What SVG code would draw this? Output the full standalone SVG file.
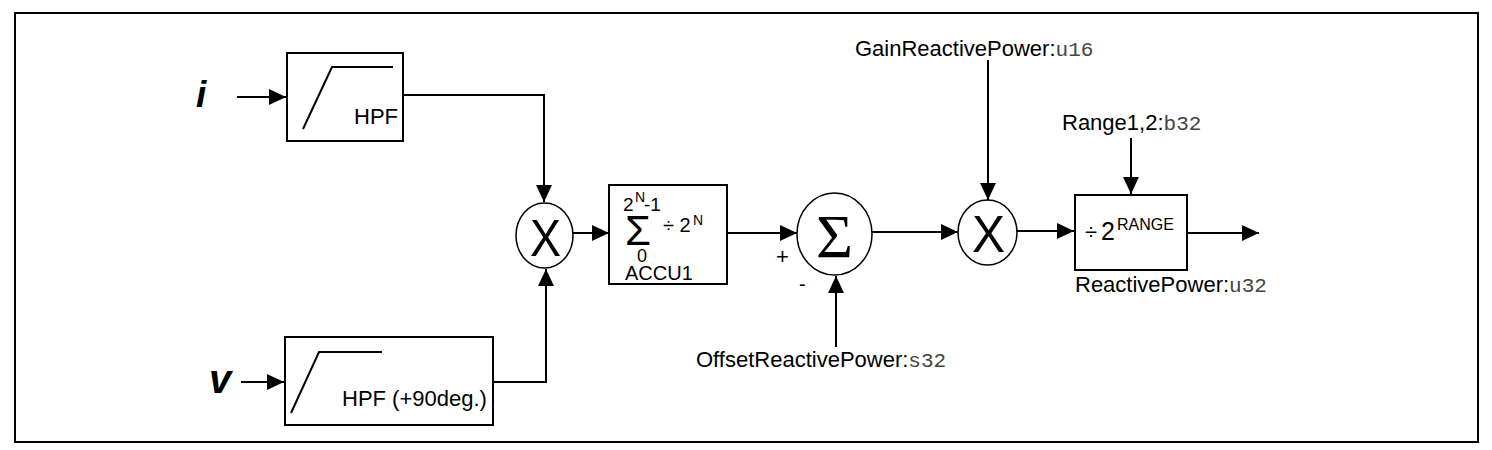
<svg xmlns="http://www.w3.org/2000/svg" width="1492" height="450" viewBox="0 0 1492 450">
<style>
text{font-family:"Liberation Sans",Arial,sans-serif;fill:#000}
.lbl{font-size:22px}
.mono{font-family:"Liberation Mono","Courier New",monospace;font-size:21px;fill:#444}
.serif{font-family:"Liberation Serif","Times New Roman",serif}
.box{fill:#fff;stroke:#000;stroke-width:2}
.circ{fill:#fff;stroke:#000;stroke-width:1.5}
.wire{fill:none;stroke:#000;stroke-width:2}
.big{font-weight:bold;font-style:italic}
</style>
<defs>
<marker id="ah" markerWidth="17" markerHeight="16" refX="17" refY="8" orient="auto" markerUnits="userSpaceOnUse">
<path d="M0,0 L17,8 L0,16 z" fill="#000"/>
</marker>
</defs>
<rect x="15" y="13" width="1463" height="429" fill="#fff" stroke="#000" stroke-width="2"/>

<g id="input-i"><text class="big" x="196" y="107" font-size="37">i</text></g>
<g id="input-v"><text class="big" x="209" y="393" font-size="40">v</text></g>

<g id="hpf1">
<rect class="box" x="287" y="53" width="116" height="88"/>
<path class="wire" d="M303,129 L332,67 H393"/>
<text class="lbl" x="354" y="124">HPF</text>
</g>

<g id="hpf2">
<rect class="box" x="285" y="337" width="208" height="88"/>
<path class="wire" d="M291,413 L319,352 H382"/>
<text class="lbl" x="342" y="406">HPF (+90deg.)</text>
</g>

<g id="mult1">
<ellipse class="circ" cx="544.5" cy="235.5" rx="28.5" ry="32.5"/>
<text x="530" y="256" font-size="52" textLength="31" lengthAdjust="spacingAndGlyphs">X</text>
</g>

<g id="accu1">
<rect class="box" x="609" y="185" width="118" height="99"/>
<text x="623" y="211" font-size="19">2</text>
<text x="635" y="202" font-size="14">N</text>
<text x="644" y="211" font-size="19">-1</text>
<text x="625" y="245" font-size="43" textLength="26" lengthAdjust="spacingAndGlyphs">Σ</text>
<text x="637" y="262" font-size="18">0</text>
<text x="663" y="232" font-size="20">÷ 2</text>
<text x="693" y="225" font-size="14">N</text>
<text x="625" y="280" font-size="20">ACCU1</text>
</g>

<g id="sum">
<ellipse class="circ" cx="834.5" cy="234" rx="37.5" ry="41"/>
<text class="serif" x="816" y="257" font-size="62" textLength="37" lengthAdjust="spacingAndGlyphs">Σ</text>
<text x="776" y="264" font-size="22">+</text>
<text x="799" y="291" font-size="20">-</text>
</g>

<g id="mult2">
<ellipse class="circ" cx="987.5" cy="232.5" rx="29.5" ry="32.5"/>
<text x="972" y="252" font-size="52" textLength="33" lengthAdjust="spacingAndGlyphs">X</text>
</g>

<g id="range-div">
<rect class="box" x="1075" y="195" width="112" height="75"/>
<text x="1085" y="239" font-size="22">÷</text>
<text x="1101" y="240" font-size="25">2</text>
<text x="1117" y="230" font-size="16">RANGE</text>
</g>

<g id="labels">
<text class="lbl" x="855" y="56">GainReactivePower:<tspan class="mono">u16</tspan></text>
<text class="lbl" x="1062" y="130">Range1,2:<tspan class="mono">b32</tspan></text>
<text class="lbl" x="1075" y="292">ReactivePower:<tspan class="mono">u32</tspan></text>
<text class="lbl" x="696" y="367">OffsetReactivePower:<tspan class="mono">s32</tspan></text>
</g>

<g id="connectors">
<path class="wire" d="M237,97 H286" marker-end="url(#ah)"/>
<path class="wire" d="M241,382 H284" marker-end="url(#ah)"/>
<path class="wire" d="M403,95 H544 V202" marker-end="url(#ah)"/>
<path class="wire" d="M493,382 H546 V269" marker-end="url(#ah)"/>
<path class="wire" d="M573,233 H609" marker-end="url(#ah)"/>
<path class="wire" d="M727,233 H797" marker-end="url(#ah)"/>
<path class="wire" d="M836,347 V276" marker-end="url(#ah)"/>
<path class="wire" d="M872,232 H958" marker-end="url(#ah)"/>
<path class="wire" d="M988,60 V200" marker-end="url(#ah)"/>
<path class="wire" d="M1017,231 H1074" marker-end="url(#ah)"/>
<path class="wire" d="M1131,138 V194" marker-end="url(#ah)"/>
<path class="wire" d="M1187,233 H1259" marker-end="url(#ah)"/>
</g>
</svg>
